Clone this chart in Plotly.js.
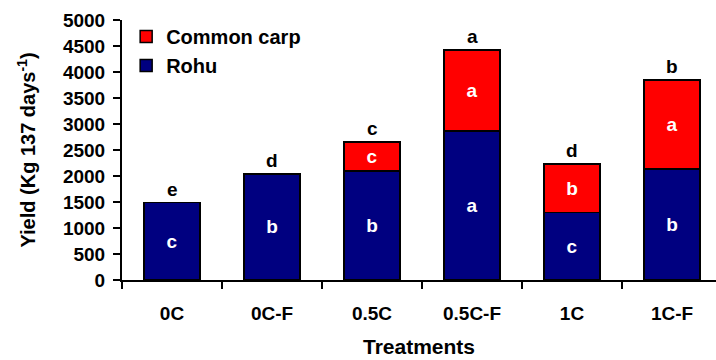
<!DOCTYPE html>
<html>
<head>
<meta charset="utf-8">
<script src="https://cdn.plot.ly/plotly-3.0.1.min.js"></script>
<style>html,body{margin:0;padding:0;background:#fff;}#chart{width:716px;height:360px;}</style>
</head>
<body>
<div id="chart"></div>
<script>
const treatments = ["0C", "0C-F", "0.5C", "0.5C-F", "1C", "1C-F"];
const rohu = [1490, 2040, 2100, 2870, 1295, 2135];
const carp = [null, null, 550, 1555, 935, 1710];
const rohuLetters = ["c", "b", "b", "a", "c", "b"];
const carpLetters = ["", "", "c", "a", "b", "a"];
const totalLetters = ["e", "d", "c", "a", "d", "b"];

const totals = rohu.map((v, i) => v + (carp[i] || 0));
const F = "Liberation Sans, Arial, sans-serif";

const traces = [
  {
    type: "bar", name: "Rohu", x: treatments, y: rohu,
    marker: {color: "#000080", line: {color: "#000000", width: 1.5}},
    text: rohuLetters, textposition: "inside", insidetextanchor: "middle",
    textfont: {color: "#ffffff", size: 19, family: F, weight: "bold"},
    constraintext: "none", width: 0.56, legendrank: 2
  },
  {
    type: "bar", name: "Common carp", x: treatments, y: carp,
    marker: {color: "#ff0000", line: {color: "#000000", width: 1.5}},
    text: carpLetters, textposition: "inside", insidetextanchor: "middle",
    textfont: {color: "#ffffff", size: 19, family: F, weight: "bold"},
    constraintext: "none", width: 0.56, legendrank: 1
  }
];

const annotations = treatments.map((t, i) => ({
  x: t, y: totals[i], xref: "x", yref: "y", text: totalLetters[i],
  showarrow: false, yanchor: "bottom", yshift: 1,
  font: {size: 19, family: F, weight: "bold", color: "#000"}
}));

const layout = {
  width: 716, height: 360,
  margin: {l: 122, r: 0, t: 20, b: 80},
  paper_bgcolor: "#fff", plot_bgcolor: "#fff",
  font: {family: F, size: 19, color: "#000", weight: "bold"},
  barmode: "stack",
  showlegend: true,
  legend: {
    x: 0.007, y: 1.012, xanchor: "left", yanchor: "top",
    traceorder: "normal",
    tracegroupgap: 2,
    font: {size: 20, family: F, weight: "bold"},
    bgcolor: "rgba(0,0,0,0)"
  },
  xaxis: {
    type: "category", range: [-0.5, 5.44],
    showline: true, linecolor: "#000", linewidth: 2,
    ticks: "outside", tickson: "boundaries", ticklen: 7, tickwidth: 2, tickcolor: "#000",
    ticklabelstandoff: 15,
    tickfont: {size: 19, family: F, weight: "bold"},
    showgrid: false, zeroline: false,
    title: {text: "Treatments", font: {size: 21, family: F, weight: "bold"}, standoff: 17}
  },
  yaxis: {
    range: [0, 5000], dtick: 500, tick0: 0,
    showline: true, linecolor: "#000", linewidth: 2,
    ticks: "outside", ticklen: 7, tickwidth: 2, tickcolor: "#000",
    ticklabelstandoff: 4,
    tickfont: {size: 19, family: F, weight: "bold"},
    showgrid: false, zeroline: false,
    title: {text: "Yield (Kg 137 days<sup>-1</sup>)", font: {size: 20, family: F, weight: "bold"}, standoff: 22}
  },
  annotations: annotations
};

Plotly.newPlot("chart", traces, layout, {displayModeBar: false, staticPlot: true});
</script>
</body>
</html>
